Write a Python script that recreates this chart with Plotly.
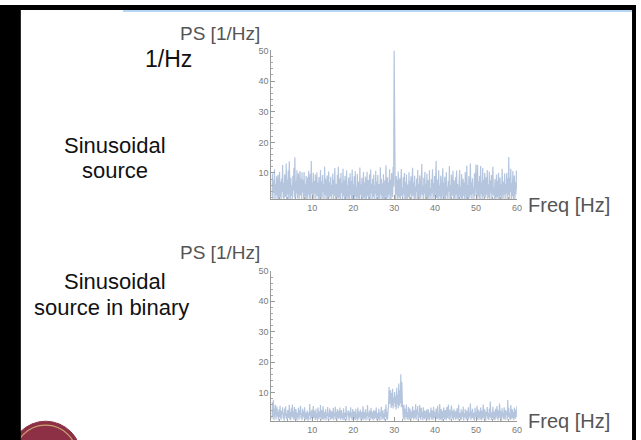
import plotly.graph_objects as go

W, H = 641, 440

freq_step = 0.125
ps_sinusoidal = [
    2.4, 9.8, 1.1, 7.6, 3.5, 11.2, 0.9, 6.3, 2.8, 8.9, 1.6, 5.2, 9.4, 0.7, 4.6, 10.4, 2.1, 7.1, 1.3, 8.2,
    3.9, 12.6, 1.8, 6.7, 0.8, 9.6, 4.1, 2.2, 13.1, 1.0, 7.9, 3.0, 10.8, 1.5, 13.8, 5.7, 0.9, 8.4, 2.6, 6.0,
    1.2, 9.1, 4.3, 11.7, 2.0, 15.1, 0.8, 7.3, 3.4, 10.9, 1.7, 6.6, 9.9, 0.7, 5.1, 10.6, 2.7, 8.0, 1.4, 10.2,
    3.6, 7.7, 0.9, 10.3, 2.3, 6.2, 1.1, 9.0, 4.7, 0.8, 8.6, 2.9, 10.7, 1.6, 5.8, 9.7, 0.7, 13.9, 3.2, 6.9,
    1.9, 10.1, 0.8, 7.4, 3.3, 9.5, 1.4, 5.5, 10.2, 2.5, 6.8, 0.9, 8.7, 4.0, 1.2, 11.0, 2.2, 7.2, 1.0, 9.3,
    3.7, 6.4, 0.6, 12.1, 2.8, 8.1, 1.5, 5.9, 9.2, 0.8, 4.5, 10.5, 1.8, 7.0, 2.4, 8.8, 1.1, 6.1, 3.1, 9.8,
    0.9, 7.8, 2.6, 11.6, 1.3, 6.5, 4.2, 0.7, 9.4, 2.0, 12.0, 1.6, 5.3, 8.3, 0.8, 10.0, 3.5, 6.7, 1.2, 11.4,
    2.4, 7.5, 0.9, 9.0, 3.9, 1.4, 10.8, 2.1, 6.0, 0.7, 8.5, 4.4, 1.0, 9.9, 2.7, 7.3, 1.5, 11.1, 0.8, 6.3,
    3.0, 8.9, 1.2, 10.6, 2.3, 5.6, 0.8, 9.7, 4.0, 1.7, 7.1, 0.9, 11.8, 2.9, 6.2, 1.3, 8.4, 3.6, 0.7, 10.3,
    2.0, 6.9, 1.1, 8.8, 4.6, 0.6, 10.4, 2.6, 7.7, 1.5, 5.4, 9.6, 0.9, 11.1, 3.3, 6.5, 1.0, 8.1, 2.2, 9.4,
    1.4, 5.9, 3.2, 10.7, 0.8, 7.2, 2.5, 9.3, 1.2, 6.4, 4.1, 0.7, 11.9, 2.9, 8.0, 1.6, 6.6, 0.9, 9.6, 3.4,
    1.0, 7.6, 2.3, 12.5, 0.8, 5.0, 8.6, 1.7, 6.9, 3.0, 11.2, 1.3, 7.9, 0.9, 10.0, 4.4, 2.1, 12.0, 5.6, 50.0,
    12.2, 6.1, 1.2, 9.0, 2.7, 7.8, 0.8, 10.5, 3.6, 1.9, 8.3, 0.7, 6.0, 11.3, 2.4, 5.2, 1.1, 8.7, 3.0, 10.0,
    1.5, 7.0, 0.9, 9.5, 4.3, 1.3, 6.2, 2.2, 10.2, 0.8, 7.4, 3.1, 8.9, 1.0, 5.7, 11.7, 2.5, 6.8, 1.4, 9.1,
    0.7, 5.6, 3.8, 8.2, 1.2, 11.0, 2.0, 6.3, 0.9, 9.2, 4.5, 1.6, 7.5, 12.9, 2.8, 5.8, 0.8, 8.4, 3.2, 10.4,
    1.3, 6.5, 2.1, 9.8, 0.9, 7.7, 4.0, 1.1, 10.9, 2.6, 5.1, 0.7, 8.0, 3.4, 11.2, 1.5, 6.7, 2.3, 9.0, 1.0,
    6.6, 14.0, 1.8, 7.9, 3.7, 0.8, 10.9, 2.4, 5.9, 1.2, 9.1, 4.9, 0.9, 7.3, 11.5, 2.0, 6.8, 1.4, 8.8, 3.1,
    0.8, 10.2, 2.7, 5.5, 1.1, 7.4, 3.9, 12.3, 1.6, 6.0, 0.7, 9.4, 2.5, 4.8, 10.7, 1.3, 7.6, 3.3, 0.9, 8.6,
    2.9, 10.8, 1.5, 6.4, 4.1, 0.8, 7.2, 11.0, 2.2, 5.6, 1.0, 9.7, 3.8, 0.6, 8.1, 2.6, 6.9, 1.2, 10.3, 3.5,
    1.4, 12.4, 2.0, 6.1, 0.9, 8.9, 4.3, 1.7, 13.1, 2.8, 7.0, 0.7, 8.3, 3.2, 5.4, 1.1, 9.9, 2.4, 6.6, 12.8,
    4.4, 1.0, 12.6, 2.6, 7.3, 1.7, 9.0, 0.9, 12.3, 3.1, 6.9, 1.2, 11.6, 2.3, 7.7, 0.6, 10.1, 4.8, 1.8, 8.7,
    3.0, 11.0, 1.1, 6.3, 2.1, 10.5, 0.8, 7.6, 3.4, 9.3, 1.5, 5.8, 12.0, 2.7, 5.2, 0.9, 8.0, 3.6, 1.3, 9.5,
    2.2, 7.4, 0.7, 10.1, 3.9, 1.4, 8.5, 2.5, 6.2, 0.9, 11.4, 4.2, 1.6, 7.1, 2.9, 9.8, 1.0, 6.4, 3.3, 10.0,
    1.2, 8.2, 2.8, 15.2, 1.0, 8.4, 3.9, 11.4, 0.7, 6.7, 2.4, 10.6, 1.5, 5.9, 9.2, 0.8, 7.0, 3.0, 10.8, 4.5,
]
ps_binary = [
    1.2, 6.8, 2.1, 7.6, 0.9, 4.0, 2.6, 5.9, 1.1, 3.3, 5.3, 2.0, 3.6, 0.8, 4.4, 1.7, 5.6, 2.3, 1.0, 3.9,
    2.8, 5.1, 1.4, 3.2, 0.7, 4.7, 2.2, 5.4, 1.3, 3.0, 0.9, 4.2, 2.5, 1.6, 5.9, 1.1, 3.5, 0.8, 4.8, 2.0,
    6.0, 1.5, 3.7, 0.9, 5.2, 2.4, 1.2, 4.5, 2.9, 0.7, 3.3, 1.8, 5.0, 1.0, 4.1, 2.6, 5.6, 1.4, 3.1, 0.8,
    4.6, 2.1, 3.8, 1.3, 5.1, 0.9, 3.4, 2.7, 1.1, 4.0, 1.9, 0.7, 3.4, 2.3, 6.2, 1.0, 3.6, 1.6, 4.3, 0.8,
    2.8, 5.5, 1.5, 3.9, 2.2, 0.9, 4.6, 1.4, 3.0, 0.7, 5.0, 2.5, 1.2, 3.7, 1.8, 5.8, 0.8, 4.2, 2.0, 1.1,
    5.4, 2.6, 0.9, 3.5, 1.6, 4.4, 0.8, 3.1, 2.3, 5.2, 1.0, 3.3, 1.9, 4.7, 0.9, 4.0, 2.4, 1.2, 3.8, 1.5,
    4.9, 0.8, 3.2, 2.1, 5.3, 1.1, 3.6, 0.7, 4.5, 2.7, 1.3, 3.9, 1.7, 5.0, 0.9, 2.9, 4.2, 1.4, 3.0, 0.8,
    4.8, 2.2, 1.0, 3.4, 1.8, 5.5, 0.9, 3.1, 2.5, 4.1, 1.2, 0.7, 3.7, 2.0, 5.1, 1.5, 3.3, 0.8, 4.5, 2.6,
    1.1, 3.8, 2.2, 0.9, 4.6, 1.4, 3.0, 0.7, 5.0, 2.5, 1.2, 3.7, 1.8, 4.3, 0.8, 3.5, 2.0, 1.1, 5.4, 2.6,
    0.9, 3.5, 1.6, 4.4, 0.8, 3.1, 2.3, 5.8, 1.0, 3.3, 1.9, 4.0, 0.9, 2.7, 4.9, 1.3, 3.6, 2.1, 0.8, 4.2,
    2.4, 1.2, 3.9, 1.7, 5.0, 0.9, 3.2, 2.6, 1.1, 4.6, 1.5, 0.7, 3.4, 2.2, 5.3, 1.0, 2.9, 4.1, 1.3, 3.0,
    0.8, 4.5, 2.0, 6.0, 1.2, 3.6, 1.0, 3.9, 5.4, 11.8, 6.2, 9.4, 10.7, 4.9, 9.8, 5.6, 11.2, 4.7, 8.3, 6.5,
    10.1, 5.2, 8.7, 4.4, 11.5, 6.0, 9.3, 4.8, 12.9, 5.5, 10.6, 6.4, 16.0, 5.1, 13.4, 6.8, 3.8, 1.2, 5.9, 2.3,
    0.8, 4.6, 1.9, 6.0, 1.3, 3.5, 0.9, 5.2, 2.4, 1.1, 4.7, 2.0, 0.7, 3.8, 1.6, 5.4, 2.8, 1.0, 4.1, 1.5,
    2.4, 6.1, 1.0, 4.3, 2.7, 5.5, 0.7, 3.2, 1.6, 5.8, 2.1, 0.9, 4.9, 1.8, 3.6, 0.8, 5.1, 2.5, 1.2, 4.0,
    1.5, 3.8, 0.7, 4.4, 2.2, 1.0, 4.4, 2.9, 0.8, 3.3, 1.9, 5.0, 1.1, 4.1, 2.4, 0.9, 5.3, 1.6, 3.7, 2.0,
    0.8, 4.7, 2.6, 1.2, 5.6, 1.7, 3.1, 0.9, 6.2, 2.3, 1.0, 4.5, 2.8, 0.7, 3.9, 1.4, 5.0, 2.1, 1.1, 4.2,
    2.5, 0.9, 5.2, 1.6, 3.4, 6.0, 1.2, 4.3, 0.8, 3.0, 2.0, 5.7, 1.3, 4.0, 2.4, 0.9, 4.6, 1.8, 3.7, 1.0,
    3.9, 1.4, 4.8, 2.2, 0.8, 5.9, 1.5, 3.2, 2.6, 0.9, 4.4, 1.1, 3.6, 2.0, 5.3, 0.7, 3.0, 1.7, 4.5, 2.3,
    1.0, 4.0, 2.7, 0.8, 5.1, 1.3, 3.4, 2.1, 6.3, 0.9, 3.8, 1.6, 4.6, 2.4, 1.1, 3.2, 0.7, 4.9, 2.0, 3.5,
    1.2, 5.6, 2.5, 0.9, 4.3, 1.7, 3.7, 1.0, 5.0, 2.2, 0.8, 3.9, 1.5, 6.0, 2.9, 1.1, 4.4, 2.0, 0.7, 3.6,
    2.3, 5.2, 1.3, 3.1, 0.9, 4.7, 1.8, 7.0, 2.4, 0.9, 3.4, 1.5, 5.3, 1.0, 3.8, 2.2, 0.8, 4.6, 1.4, 3.0,
    5.5, 2.2, 0.8, 4.1, 1.5, 6.3, 2.7, 1.1, 3.8, 0.7, 4.8, 2.0, 3.3, 1.2, 5.1, 1.7, 0.9, 4.2, 2.5, 3.6,
    1.0, 7.5, 2.0, 4.9, 1.4, 3.2, 0.9, 5.8, 2.3, 1.2, 4.4, 1.6, 3.5, 0.8, 5.0, 2.1, 1.3, 4.3, 1.9, 5.6,
]
x_ticks = [10, 20, 30, 40, 50, 60]
y_ticks = [10, 20, 30, 40, 50]

freqs_top = [freq_step * (i + 1) for i in range(len(ps_sinusoidal))]
freqs_bot = [freq_step * (i + 1) for i in range(len(ps_binary))]


def px(x):
    return x / W


def py(y):
    return 1 - y / H


line_col = "rgba(94,129,181,0.46)"
fig = go.Figure()
fig.add_trace(go.Scatter(x=freqs_top, y=ps_sinusoidal, mode="lines",
                         line=dict(color=line_col, width=1.2), xaxis="x", yaxis="y",
                         showlegend=False, hoverinfo="skip"))
fig.add_trace(go.Scatter(x=freqs_bot, y=ps_binary, mode="lines",
                         line=dict(color=line_col, width=1.2), xaxis="x2", yaxis="y2",
                         showlegend=False, hoverinfo="skip"))

tickfont = dict(family="Liberation Sans, Arial, sans-serif", size=9, color="#7a7a7a")
axcommon = dict(showgrid=False, zeroline=False, showline=True, linecolor="#9a9a9a",
                linewidth=1, ticks="inside", ticklen=4, tickcolor="#9a9a9a",
                tickfont=tickfont, fixedrange=True)
minor = dict(ticks="inside", ticklen=2, tickcolor="#aaaaaa", dtick=2)

xdom = [px(273.5), px(521)]
fig.update_layout(
    width=W, height=H,
    margin=dict(l=0, r=0, t=0, b=0),
    paper_bgcolor="white", plot_bgcolor="rgba(0,0,0,0)",
    xaxis=dict(domain=xdom, range=[0, 60], tickvals=x_ticks, anchor="y",
               minor=minor, **axcommon),
    yaxis=dict(domain=[py(196.7), py(46)], range=[1.35, 50], tickvals=y_ticks, anchor="x",
               minor=minor, **axcommon),
    xaxis2=dict(domain=xdom, range=[0, 60], tickvals=x_ticks, anchor="y2",
                minor=minor, **axcommon),
    yaxis2=dict(domain=[py(420.7), py(269)], range=[0.6, 50], tickvals=y_ticks, anchor="x2",
                minor=minor, **axcommon),
)

font_label = "Liberation Sans, Arial, Helvetica, sans-serif"
annots = [
    ("PS [1/Hz]", 222, 29, 19, "#555555"),
    ("Freq [Hz]", 573, 202, 20, "#555555"),
    ("PS [1/Hz]", 222, 250, 19, "#555555"),
    ("Freq [Hz]", 573, 421, 20, "#555555"),
    ("1/Hz", 170, 55, 23, "#111111"),
    ("Sinusoidal", 116, 142, 22, "#111111"),
    ("source", 116, 167, 22, "#111111"),
    ("Sinusoidal", 116, 280, 22, "#111111"),
    ("source in binary", 112, 306, 22, "#111111"),
]
for text, x, y, s, c in annots:
    fig.add_annotation(text=text, x=px(x), y=py(y), xref="paper", yref="paper",
                       showarrow=False, xanchor="center", yanchor="middle",
                       font=dict(family=font_label, size=s, color=c))

shapes = [
    dict(type="circle", xref="paper", yref="paper", x0=px(10), x1=px(82), y0=py(494), y1=py(421),
         fillcolor="#8e3045", line=dict(color="#8e3045", width=1), layer="above"),
    dict(type="circle", xref="paper", yref="paper", x0=px(14), x1=px(78), y0=py(490), y1=py(425),
         fillcolor="rgba(0,0,0,0)", line=dict(color="#c9a271", width=1.2), layer="above"),
    dict(type="rect", xref="paper", yref="paper", x0=0, x1=px(21), y0=0, y1=1,
         fillcolor="black", line=dict(width=0), layer="above"),
    dict(type="rect", xref="paper", yref="paper", x0=0, x1=1, y0=py(5), y1=1,
         fillcolor="black", line=dict(width=0), layer="above"),
    dict(type="rect", xref="paper", yref="paper", x0=px(637), x1=1, y0=0, y1=1,
         fillcolor="black", line=dict(width=0), layer="above"),
    dict(type="line", xref="paper", yref="paper", x0=px(124), x1=px(637), y0=py(6), y1=py(6),
         line=dict(color="#b5d6f5", width=2), layer="above"),
]
fig.update_layout(shapes=shapes)

fig.write_html("out.html")
